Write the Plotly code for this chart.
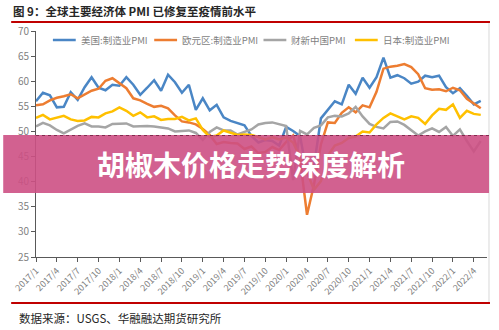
import plotly.graph_objects as go

months = [f"{y}/{m}" for y in range(2017, 2023) for m in range(1, 13)][:65]

us_pmi = [56.0, 57.7, 57.2, 54.8, 54.9, 57.8, 56.3, 58.8, 60.8, 58.7, 58.2, 59.3,
          59.1, 60.8, 59.3, 57.3, 58.7, 60.2, 58.1, 61.3, 59.8, 57.7, 59.3, 54.3,
          56.6, 54.2, 55.3, 52.8, 52.1, 51.7, 51.2, 49.1, 47.8, 48.3, 48.1, 47.2,
          50.9, 50.1, 49.1, 41.5, 43.1, 52.6, 54.2, 56.0, 55.4, 59.3, 57.5, 60.7,
          58.7, 60.8, 64.7, 60.7, 61.2, 60.6, 59.5, 59.9, 61.1, 60.8, 61.1, 58.8,
          57.6, 58.6, 57.1, 55.4, 56.1]
eu_pmi = [55.2, 55.4, 56.2, 56.7, 57.0, 57.4, 56.6, 57.4, 58.1, 58.5, 60.1, 60.6,
          59.6, 58.6, 56.6, 56.2, 55.5, 54.9, 55.1, 54.6, 53.2, 52.0, 51.8, 51.4,
          50.5, 49.3, 47.5, 47.9, 47.7, 47.6, 46.5, 47.0, 45.7, 45.9, 46.9, 46.3,
          47.9, 49.2, 44.5, 33.4, 39.4, 47.4, 51.8, 51.7, 53.7, 54.8, 53.8, 55.2,
          54.8, 57.9, 62.5, 62.9, 63.1, 63.4, 62.8, 61.4, 58.6, 58.3, 58.4, 58.0,
          58.7, 58.2, 56.5, 55.5, 54.6]
cn_pmi = [51.0, 51.7, 51.2, 50.3, 49.6, 50.4, 51.1, 51.6, 51.0, 51.0, 50.8, 51.5,
          51.5, 51.6, 51.0, 51.1, 51.1, 51.0, 50.8, 50.6, 50.0, 50.1, 50.2, 49.7,
          48.3, 49.9, 50.8, 50.2, 50.2, 49.4, 49.9, 50.4, 51.4, 51.7, 51.8, 51.5,
          51.1, 40.3, 50.1, 49.4, 50.7, 51.2, 52.8, 53.1, 53.0, 53.6, 54.9, 53.0,
          51.5, 50.9, 50.6, 51.9, 52.0, 51.3, 50.3, 49.2, 50.0, 50.6, 49.9, 50.9,
          49.1, 50.4, 48.1, 46.0, 48.1]
jp_pmi = [52.7, 53.3, 52.4, 52.7, 53.1, 52.4, 52.1, 52.2, 52.9, 52.8, 53.6, 54.0,
          54.8, 54.1, 53.1, 53.8, 52.8, 53.0, 52.3, 52.5, 52.5, 52.9, 52.2, 52.6,
          50.3, 48.9, 49.2, 50.2, 49.8, 49.3, 49.4, 49.3, 48.9, 48.4, 48.9, 48.4,
          48.8, 47.8, 44.8, 41.9, 38.4, 40.1, 45.2, 47.2, 47.7, 48.7, 49.0, 50.0,
          49.8, 51.4, 52.7, 53.6, 53.0, 52.4, 53.0, 52.7, 51.5, 53.2, 54.5, 54.3,
          55.4, 52.7, 54.1, 53.5, 53.3]

series_names = ["美国:制造业PMI", "欧元区:制造业PMI", "财新中国PMI", "日本:制造业PMI"]
series_colors = ["#4A86C5", "#ED7D31", "#A5A5A5", "#FFC000"]
tick_labels = months[::3]

title_text = "图 9：全球主要经济体 PMI 已修复至疫情前水平"
source_text = "数据来源：USGS、华融融达期货研究所"
banner_text = "胡椒木价格走势深度解析"

W, H = 499, 330
L, R, T, B = 33, 12, 31, 73
PW, PH = W - L - R, H - T - B

def px(x):
    return (x - L) / PW

def py(y):
    return (H - B - y) / PH

CJK = "Noto Sans CJK SC, Noto Sans, sans-serif"

fig = go.Figure()
for name, vals, col in zip(series_names, [us_pmi, eu_pmi, cn_pmi, jp_pmi], series_colors):
    fig.add_trace(go.Scatter(x=months, y=vals, mode="lines", name=name,
                             line=dict(color=col, width=2.5), showlegend=False))

fig.update_layout(
    width=W, height=H,
    margin=dict(l=L, r=R, t=T, b=B),
    paper_bgcolor="white", plot_bgcolor="white",
    font=dict(family=CJK, color="#595959", size=10),
    xaxis=dict(type="category", range=[0, 64.9], tickvals=tick_labels, ticktext=tick_labels,
               tickangle=-45, ticks="outside", ticklen=4, tickcolor="#595959",
               showline=True, linecolor="#595959", linewidth=1, showgrid=False,
               tickfont=dict(size=9, color="#7f7f7f"), zeroline=False),
    yaxis=dict(range=[25, 70], dtick=5, ticks="outside", ticklen=4, tickcolor="#595959",
               showline=True, linecolor="#595959", linewidth=1, showgrid=False,
               tickfont=dict(size=10, color="#7f7f7f"), zeroline=False),
)

shapes = [
    dict(type="line", xref="paper", yref="paper", x0=px(8), x1=px(490), y0=py(22), y1=py(22),
         line=dict(color="#C00000", width=2)),
    dict(type="line", xref="paper", yref="paper", x0=px(8), x1=px(490), y0=py(303), y1=py(303),
         line=dict(color="#C00000", width=2)),
    dict(type="line", xref="paper", yref="paper", x0=px(489), x1=px(489), y0=py(23), y1=py(302),
         line=dict(color="#D9D9D9", width=1)),
]

# manual legend
legend_line_x = [50, 152, 262, 354]
legend_y = 40
annotations = []
for lx, name, col in zip(legend_line_x, series_names, series_colors):
    shapes.append(dict(type="line", xref="paper", yref="paper", x0=px(lx), x1=px(lx + 23),
                       y0=py(legend_y), y1=py(legend_y), line=dict(color=col, width=2.5)))
    annotations.append(dict(text=name, xref="paper", yref="paper", x=px(lx + 26), y=py(legend_y),
                            xanchor="left", yanchor="middle", showarrow=False,
                            font=dict(family=CJK, size=9.5, color="#7f7f7f")))

shapes += [
    dict(type="rect", xref="paper", yref="paper", x0=px(0), x1=px(489), y0=py(193), y1=py(135),
         fillcolor="rgba(205,80,132,0.9)", line=dict(width=0), layer="above"),
    dict(type="line", xref="paper", yref="paper", x0=px(33), x1=px(489), y0=py(135.5), y1=py(135.5),
         line=dict(color="rgba(110,30,60,0.8)", width=1, dash="dot"), layer="above"),
]
fig.update_layout(shapes=shapes)

annotations += [
    dict(text=f"<b>{title_text}</b>", xref="paper", yref="paper", x=px(8), y=py(11),
         xanchor="left", yanchor="middle", showarrow=False,
         font=dict(family=CJK, size=11.5, color="#262626")),
    dict(text=source_text, xref="paper", yref="paper", x=px(14), y=py(318),
         xanchor="left", yanchor="middle", showarrow=False,
         font=dict(family=CJK, size=11.5, color="#262626")),
    dict(text=f"<b>{banner_text}</b>", xref="paper", yref="paper", x=px(249), y=py(164),
         xanchor="center", yanchor="middle", showarrow=False,
         font=dict(family=CJK, size=28, color="white")),
]
fig.update_layout(annotations=annotations)

fig.write_html("out.html")
